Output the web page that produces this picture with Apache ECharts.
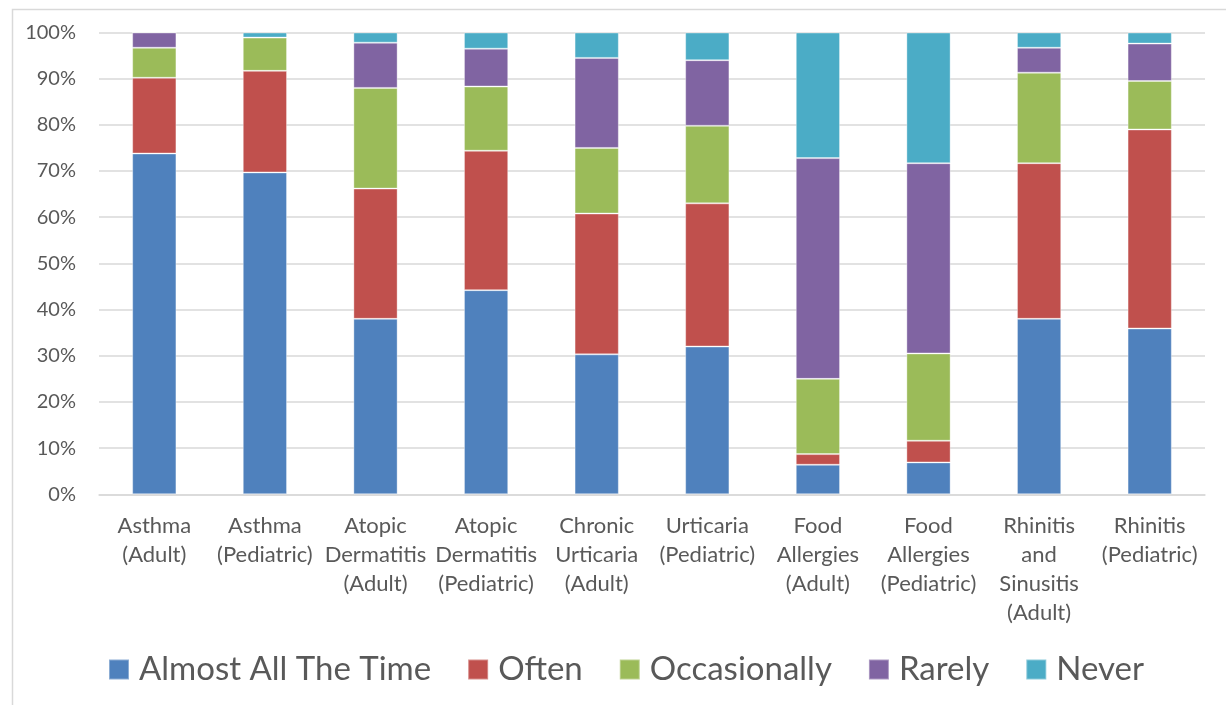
<!DOCTYPE html>
<html>
<head>
<meta charset="utf-8">
<style>
  html, body { margin: 0; padding: 0; background: #ffffff; }
  #chart { width: 1226px; height: 705px; }
</style>
<script src="https://cdn.jsdelivr.net/npm/echarts@6/dist/echarts.min.js"></script>
</head>
<body>
<div id="chart"></div>
<script>
// Condition categories (line breaks as shown under each bar)
const categories = [
  'Asthma\n(Adult)',
  'Asthma\n(Pediatric)',
  'Atopic\nDermatitis\n(Adult)',
  'Atopic\nDermatitis\n(Pediatric)',
  'Chronic\nUrticaria\n(Adult)',
  'Urticaria\n(Pediatric)',
  'Food\nAllergies\n(Adult)',
  'Food\nAllergies\n(Pediatric)',
  'Rhinitis\nand\nSinusitis\n(Adult)',
  'Rhinitis\n(Pediatric)'
];

// Share of responses (%) per frequency answer
const almostAllTheTime = [73.8, 69.7, 38.0, 44.2, 30.3, 32.0, 6.4, 6.9, 38.0, 35.9];
const often            = [16.4, 22.0, 28.2, 30.2, 30.5, 31.0, 2.3, 4.7, 33.7, 43.1];
const occasionally     = [6.5, 7.2, 21.8, 13.9, 14.2, 16.8, 16.3, 18.9, 19.6, 10.5];
const rarely           = [3.3, 0.0, 9.8, 8.2, 19.5, 14.2, 47.8, 41.2, 5.4, 8.1];
const never            = [0.0, 1.1, 2.2, 3.5, 5.5, 6.0, 27.2, 28.3, 3.3, 2.4];

const seriesNames = ['Almost All The Time', 'Often', 'Occasionally', 'Rarely', 'Never'];
const seriesData = [almostAllTheTime, often, occasionally, rarely, never];
const colors = ['#4f81bd', '#c0504d', '#9bbb59', '#8064a2', '#4bacc6'];

const yTicks = { min: 0, max: 100, interval: 10 };

const FONT = 'Lato, "Open Sans", sans-serif';
const TEXT = '#595959';
const GRID = '#d9d9d9';

const chart = echarts.init(document.getElementById('chart'), null, { renderer: 'canvas' });

chart.setOption({
  animation: false,
  color: colors,
  textStyle: { fontFamily: FONT },
  graphic: [{
    type: 'rect',
    left: 10, top: 7,
    shape: { width: 1400, height: 900 },
    style: { fill: 'none', stroke: GRID, lineWidth: 1.5 },
    silent: true,
    z: -10
  }],
  grid: { left: 99, right: 21, top: 32.5, bottom: 210.7, containLabel: false },
  legend: {
    left: 103,
    top: 648,
    itemWidth: 20,
    itemHeight: 20,
    itemGap: 36,
    icon: 'rect',
    textStyle: { fontSize: 33, color: TEXT, fontFamily: FONT, padding: [0, 0, 0, 5] },
    data: seriesNames
  },
  xAxis: {
    type: 'category',
    data: categories,
    axisLine: { show: true, lineStyle: { color: GRID, width: 1.5 } },
    axisTick: { show: false },
    axisLabel: {
      interval: 0,
      margin: 17,
      fontSize: 22,
      lineHeight: 29,
      color: TEXT,
      fontFamily: FONT,
      align: 'center'
    }
  },
  yAxis: {
    type: 'value',
    min: yTicks.min,
    max: yTicks.max,
    interval: yTicks.interval,
    axisLine: { show: false },
    axisTick: { show: false },
    axisLabel: {
      formatter: '{value}%',
      fontSize: 20,
      color: TEXT,
      fontFamily: FONT,
      margin: 23
    },
    splitLine: { lineStyle: { color: GRID, width: 1.5 } }
  },
  series: seriesNames.map((name, i) => ({
    name: name,
    type: 'bar',
    stack: 'total',
    barWidth: '40%',
    data: seriesData[i],
    itemStyle: {
      color: colors[i],
      borderColor: 'rgba(255,255,255,0.35)',
      borderWidth: 1
    }
  }))
});
</script>
</body>
</html>
